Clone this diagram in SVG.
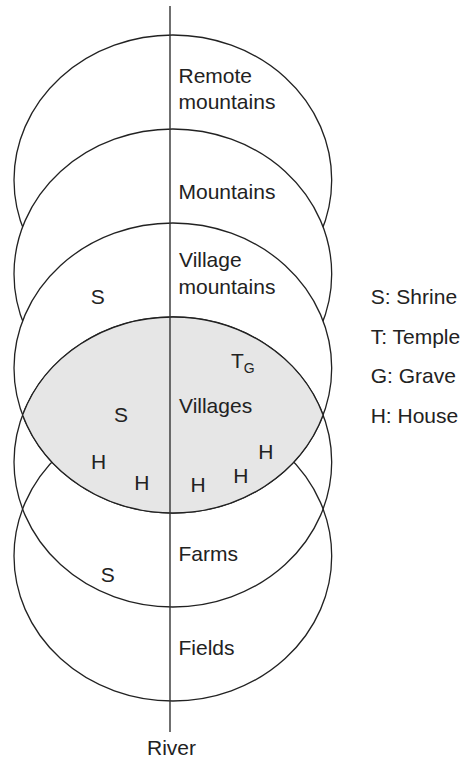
<svg xmlns="http://www.w3.org/2000/svg" width="473" height="760" viewBox="0 0 473 760">
<style>
.zone{stroke:#222;stroke-width:1.3;}
.w{fill:#fff;}
.o{fill:none;}
.lens{fill:#e6e6e6;stroke:#222;stroke-width:1.3;}
.river{stroke:#333;stroke-width:1.4;fill:none;}
text{font-family:"Liberation Sans",Arial,Helvetica,sans-serif;font-size:21px;fill:#222;}
.sub{font-size:14px;}
</style>
<rect width="473" height="760" fill="#fff"/>
<g id="remote-mountains">
<ellipse class="zone w" cx="172.85" cy="180" rx="158.85" ry="145"/>
</g>
<g id="mountains">
<ellipse class="zone w" cx="172.85" cy="274" rx="158.85" ry="145"/>
</g>
<g id="village-mountains">
<ellipse class="zone w" cx="172.85" cy="368" rx="158.85" ry="145"/>
</g>
<g id="farms">
<ellipse class="zone o" cx="172.85" cy="462" rx="158.85" ry="145"/>
</g>
<g id="fields">
<ellipse class="zone o" cx="172.85" cy="556" rx="158.85" ry="145"/>
</g>
<g id="villages">
<path class="lens" d="M22.58 415 A158.85 145 0 0 1 323.12 415 A158.85 145 0 0 1 22.58 415 Z"/>
</g>
<g id="connectors">
<line class="river" x1="170" y1="6" x2="170" y2="732"/>
</g>
<g id="labels">
<text x="178.5" y="82.5">Remote</text>
<text x="178.5" y="109">mountains</text>
<text x="178.5" y="198.5">Mountains</text>
<text x="179" y="266.5">Village</text>
<text x="178.5" y="293.5">mountains</text>
<text x="179" y="412.5">Villages</text>
<text x="178.5" y="561">Farms</text>
<text x="178.5" y="654.5">Fields</text>
<text x="171.5" y="755" text-anchor="middle">River</text>
</g>
<g id="markers">
<text x="90.7" y="303.5">S</text>
<text x="114" y="422">S</text>
<text x="100.7" y="582">S</text>
<text x="231" y="368.3">T<tspan class="sub" dy="4.4">G</tspan></text>
<text x="91" y="468.5">H</text>
<text x="134.3" y="490">H</text>
<text x="190.6" y="491.7">H</text>
<text x="233.3" y="483">H</text>
<text x="258.3" y="458.5">H</text>
</g>
<g id="legend">
<text x="370.7" y="304">S: Shrine</text>
<text x="370.7" y="343.7">T: Temple</text>
<text x="370.7" y="383.3">G: Grave</text>
<text x="370.7" y="423">H: House</text>
</g>
</svg>
